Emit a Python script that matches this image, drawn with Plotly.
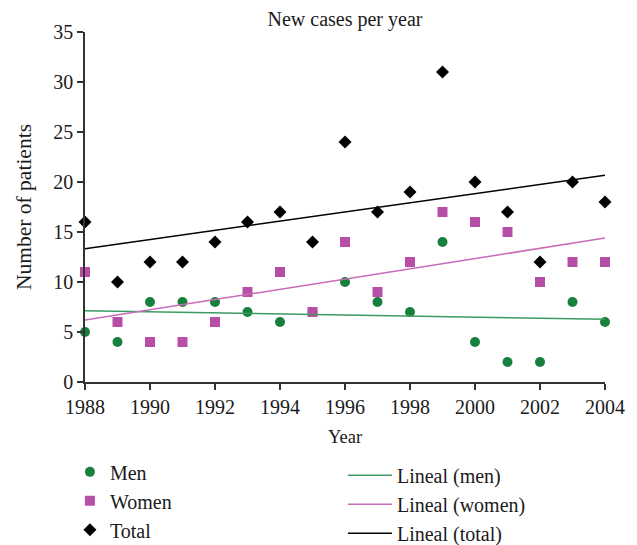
import numpy as np
import plotly.graph_objects as go

years = list(range(1988, 2005))
men = [5, 4, 8, 8, 8, 7, 6, 7, 10, 8, 7, 14, 4, 2, 2, 8, 6]
women = [11, 6, 4, 4, 6, 9, 11, 7, 14, 9, 12, 17, 16, 15, 10, 12, 12]
total = [16, 10, 12, 12, 14, 16, 17, 14, 24, 17, 19, 31, 20, 17, 12, 20, 18]

FONT = "Liberation Serif"
C_MEN = "#16803c"
C_WOMEN = "#b84fa6"
C_TOTAL = "#000000"
C_MEN_L = "#3c9a60"
C_WOMEN_L = "#c86bb9"

x = np.array(years, dtype=float)

def trend(vals):
    a, b = np.polyfit(x, np.array(vals, dtype=float), 1)
    return [a * xx + b for xx in [x[0], x[-1]]]

fig = go.Figure()
fig.add_trace(go.Scatter(x=years, y=men, mode="markers", name="Men",
                         marker=dict(symbol="circle", size=10, color=C_MEN),
                         cliponaxis=False, legend="legend"))
fig.add_trace(go.Scatter(x=years, y=women, mode="markers", name="Women",
                         marker=dict(symbol="square", size=10, color=C_WOMEN),
                         cliponaxis=False, legend="legend"))
fig.add_trace(go.Scatter(x=years, y=total, mode="markers", name="Total",
                         marker=dict(symbol="diamond", size=10, color=C_TOTAL),
                         cliponaxis=False, legend="legend"))

ends = [years[0], years[-1]]
fig.add_trace(go.Scatter(x=ends, y=trend(men), mode="lines", name="Lineal (men)",
                         line=dict(color=C_MEN_L, width=1.5), legend="legend2"))
fig.add_trace(go.Scatter(x=ends, y=trend(women), mode="lines", name="Lineal (women)",
                         line=dict(color=C_WOMEN_L, width=1.5), legend="legend2"))
fig.add_trace(go.Scatter(x=ends, y=trend(total), mode="lines", name="Lineal (total)",
                         line=dict(color=C_TOTAL, width=1.5), legend="legend2"))

fig.update_layout(
    width=637, height=545,
    margin=dict(l=77, r=40, t=24, b=171, autoexpand=False),
    paper_bgcolor="white", plot_bgcolor="white",
    font=dict(family=FONT, size=20, color="#1a1a1a"),
    title=dict(text="New cases per year", x=0.529, xanchor="center",
               y=0.9927, yanchor="top", pad=dict(t=0, b=0),
               font=dict(size=20)),
    xaxis=dict(range=[1988, 2004], tickmode="array",
               tickvals=list(range(1988, 2005, 2)),
               showline=True, linecolor="#333", linewidth=1.5,
               ticks="outside", ticklen=6, tickcolor="#333", tickwidth=1.5,
               showgrid=False, zeroline=False,
               title=dict(text="Year", standoff=13, font=dict(size=18.5))),
    yaxis=dict(range=[0, 35], tickmode="array", tickvals=list(range(0, 36, 5)),
               showline=True, linecolor="#333", linewidth=1.5,
               ticks="outside", ticklen=6, tickcolor="#333", tickwidth=1.5,
               showgrid=False, zeroline=False,
               title=dict(text="Number of patients", standoff=16, font=dict(size=21.5))),
    legend=dict(x=-0.029, y=-0.201, xanchor="left", yanchor="top",
                bgcolor="rgba(0,0,0,0)", font=dict(size=20), tracegroupgap=0),
    legend2=dict(x=0.496, y=-0.211, xanchor="left", yanchor="top",
                 bgcolor="rgba(0,0,0,0)", font=dict(size=20), itemwidth=44,
                 tracegroupgap=0),
    showlegend=True,
)

fig.write_html("out.html")
